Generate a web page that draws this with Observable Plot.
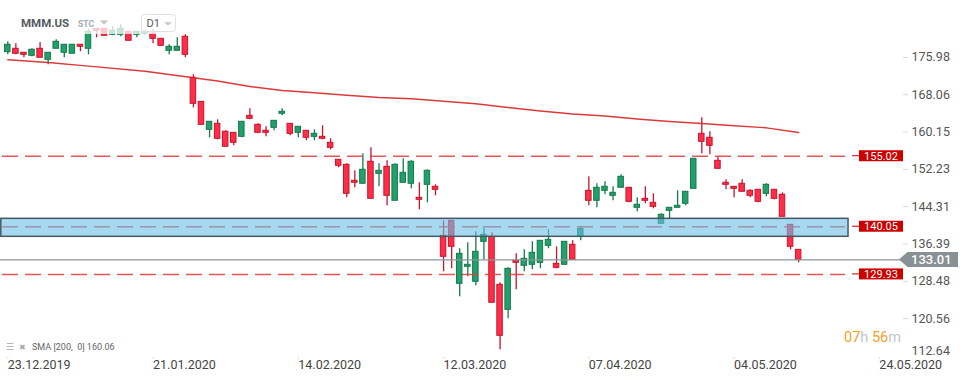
<!DOCTYPE html>
<html><head><meta charset="utf-8">
<script src="https://cdn.jsdelivr.net/npm/d3@7"></script>
<script src="https://cdn.jsdelivr.net/npm/@observablehq/plot@0.6"></script>
<style>
html,body{margin:0;padding:0;background:#fff;}
#chart{position:relative;width:970px;height:381px;overflow:hidden;}
</style></head><body><div id="chart"></div>
<script>
// ---- data (daily candles, MMM.US) ----
const openP = [177.11,177.83,176.98,176.34,177.83,175.49,177.83,176.98,176.77,178.68,
177.83,182.07,182.07,180.80,180.80,181.44,180.80,181.01,181.01,179.95,
177.40,177.40,180.38,171.67,166.57,160.63,161.90,160.21,159.99,159.14,
163.60,161.69,160.42,161.05,164.03,161.90,159.99,160.42,159.14,159.14,
157.87,154.26,153.20,149.80,149.17,153.84,151.29,152.77,145.56,149.38,
149.17,146.19,148.95,148.53,138.12,141.31,127.93,131.54,128.36,136.85,
137.91,127.72,122.41,132.82,131.76,131.97,132.39,136.00,132.18,131.97,
136.21,137.91,147.68,145.56,147.68,146.62,148.32,148.32,144.07,145.98,
145.13,140.67,143.43,144.07,144.92,148.10,159.78,158.93,154.05,149.38,
148.53,149.17,147.68,147.89,147.04,147.89,146.83,140.46,135.15];
const highP = [179.31,178.89,176.98,177.83,179.17,176.98,179.74,178.68,178.68,178.68,
181.86,182.07,182.07,182.50,182.92,181.44,181.44,181.65,181.86,179.95,
178.68,180.16,180.80,172.31,166.57,162.33,162.75,160.42,159.99,162.33,
165.09,161.90,161.27,162.54,165.09,161.90,161.27,160.42,160.63,161.48,
158.72,154.26,153.41,151.93,155.53,156.81,153.41,154.05,153.41,154.47,
154.05,149.38,152.14,148.95,141.31,141.31,135.37,136.64,138.97,140.04,
138.76,128.15,131.33,134.30,135.15,136.85,137.06,139.40,135.79,136.85,
137.06,140.04,150.65,149.17,149.59,148.53,151.08,148.32,146.19,148.53,
147.04,142.80,144.07,147.68,147.47,154.47,163.18,160.21,154.90,150.01,
148.53,150.01,147.89,147.89,149.17,147.89,147.25,140.46,135.15];
const lowP = [176.55,176.55,175.92,176.13,175.92,174.43,177.83,175.92,176.77,177.19,
176.55,180.16,180.59,180.59,180.38,179.53,180.16,180.80,178.89,178.46,
176.55,177.40,175.92,165.30,161.69,158.93,158.51,157.02,157.23,158.93,
162.75,159.78,159.14,160.42,163.60,159.36,158.93,158.29,158.29,158.51,
156.38,152.56,146.19,148.32,149.17,145.98,148.53,144.49,145.56,149.38,
148.10,143.65,145.13,146.62,130.48,131.12,125.17,129.42,127.51,133.03,
123.90,113.92,120.50,126.66,130.48,130.91,131.12,135.37,131.12,131.97,
133.03,137.06,144.49,144.07,146.83,145.56,148.32,145.13,143.22,144.92,
143.86,140.67,141.73,144.07,144.49,148.10,155.53,155.32,152.35,147.89,
146.19,147.47,146.19,145.13,146.41,145.77,142.16,135.15,132.39];
const closeP = [178.68,176.77,176.55,177.62,175.92,176.98,179.31,178.68,178.68,178.25,
181.44,181.65,180.59,181.65,182.07,179.53,181.44,181.44,179.95,178.46,
178.25,178.25,176.55,166.15,161.69,162.33,158.72,157.02,157.87,162.33,
162.97,159.99,159.99,162.54,164.45,159.78,161.27,158.93,159.78,158.72,
156.81,152.99,147.04,149.38,152.14,145.98,151.93,146.62,153.20,151.50,
153.84,145.77,151.93,147.89,133.67,135.79,134.30,131.97,134.73,138.34,
123.90,116.89,131.12,132.39,133.24,134.52,137.06,137.28,131.33,136.85,
133.03,139.61,145.56,148.32,148.53,147.25,150.65,145.34,144.71,145.56,
144.28,142.58,144.07,144.49,147.47,154.47,158.08,157.23,152.35,148.95,
148.10,147.47,146.62,145.34,148.95,145.98,142.16,135.79,133.01];

const smaIndex = [0,5,10,17,23,26,30,34,38,42,46,50,54,58,62,66,70,74,78,82,86,90,94,98];
const smaValue = [175.49,174.92,174.15,173.07,171.67,170.99,169.82,168.97,168.49,167.98,167.49,167.21,166.70,166.15,165.37,164.62,163.98,163.56,162.92,162.39,161.97,161.50,161.05,160.06];

const yTicks = [175.98,168.06,160.15,152.23,144.31,136.39,128.48,120.56];
const yTickBottom = [112.64];
const dateTickIndex = [0,18,36,54,72,90,108];
const dateTickLabels = ["23.12.2019","21.01.2020","14.02.2020","12.03.2020","07.04.2020","04.05.2020","24.05.2020"];
const levelLines = [155.02,140.05,129.93];
const zoneLow = 137.91, zoneHigh = 141.73;
const lastPrice = 133.01;
const smaLabel = "SMA [200,  0] 160.06";

// ---- build ----
const candles = openP.map((o,i)=>({i, o, h: highP[i], l: lowP[i], c: closeP[i], up: closeP[i] >= o}));
const sma = smaIndex.map((i,k)=>({i, v: smaValue[k]}));
const levels = levelLines.map(v=>({v}));
const zone = [{lo: zoneLow, hi: zoneHigh}];

const GREEN_F = "#22a06b", GREEN_S = "#15794c", RED_F = "#ff2e48", RED_S = "#c8142c";
const X0 = -0.905, X1 = 111.24, LEVEL_END = 103.8, ZONE_END = 104.18;
const yAxisStyle = {anchor: "right", tickFormat: d => d.toFixed(2), tickSize: 5, tickPadding: 4, dx: -3,
  fill: "#555", stroke: "#d9d9d9", fontSize: 12.5, label: null};

const chart = Plot.plot({
  width: 970, height: 381,
  marginLeft: 0, marginRight: 65, marginTop: 0, marginBottom: 24,
  style: {fontFamily: "Roboto, 'Noto Sans', sans-serif", background: "#fff", overflow: "visible"},
  x: {type: "linear", domain: [X0, X1], label: null},
  y: {type: "linear", domain: [112.29, 188.08], label: null},
  color: {type: "identity"},
  marks: [
    Plot.ruleX(candles, {x: "i", y1: "l", y2: "h", stroke: d => d.up ? GREEN_S : RED_S, strokeWidth: 1.3}),
    Plot.rect(candles, {x1: d => d.i - 0.34, x2: d => d.i + 0.34,
      y1: d => Math.min(d.o, d.c), y2: d => Math.max(d.o, d.c),
      fill: d => d.up ? GREEN_F : RED_F, stroke: d => d.up ? GREEN_S : RED_S, strokeWidth: 1}),
    Plot.line(sma, {x: "i", y: "v", stroke: "#d92424", strokeWidth: 1.4, strokeOpacity: 0.9}),
    Plot.ruleY(levels, {y: "v", x1: X0, x2: LEVEL_END, stroke: "#e03a3a", strokeWidth: 1.5, strokeOpacity: 0.85, strokeDasharray: "16,7", strokeDashoffset: -2}),
    Plot.ruleY([lastPrice], {stroke: "#8d9598", strokeWidth: 1.3}),
    Plot.rect(zone, {x1: X0 + 0.1, x2: ZONE_END, y1: "lo", y2: "hi", fill: "#6bbee6", fillOpacity: 0.6, stroke: "#455864", strokeWidth: 1.5}),
    Plot.axisY({...yAxisStyle, ticks: yTicks}),
    Plot.axisY({...yAxisStyle, ticks: yTickBottom, tickSize: 0, tickPadding: 9, dy: -5}),
    Plot.axisX({anchor: "bottom", ticks: dateTickIndex, tickFormat: d => dateTickLabels[dateTickIndex.indexOf(d)],
      textAnchor: "start", tickSize: 2, tickPadding: 1, fill: "#444", stroke: "#ddd", fontSize: 12.5, label: null})
  ]
});
document.getElementById("chart").appendChild(chart);

// ---- annotations positioned with Plot's scales ----
const svg = d3.select(chart);
const ys = chart.scale("y");
const ann = svg.append("g").attr("text-anchor", "start");
levelLines.forEach(v => {
  const y = ys.apply(v);
  ann.append("line").attr("x1", 852).attr("x2", 859).attr("y1", y).attr("y2", y).attr("stroke", "#cc0000").attr("stroke-width", 1);
  ann.append("rect").attr("x", 859).attr("y", y - 5.5).attr("width", 44).attr("height", 11).attr("fill", "#cc0000");
  ann.append("text").attr("x", 881).attr("y", y).attr("dy", "0.36em").attr("text-anchor", "middle")
    .attr("fill", "#fff").attr("font-size", 11).text(v.toFixed(2));
});
{
  const y = ys.apply(lastPrice);
  ann.append("path").attr("d", `M899,${y} L907.5,${y-7.5} L958,${y-7.5} L958,${y+7.5} L907.5,${y+7.5} Z`).attr("fill", "#899194");
  ann.append("text").attr("x", 911).attr("y", y).attr("dy", "0.36em").attr("fill", "#fff")
    .attr("font-size", 13).attr("font-weight", 500).text(lastPrice.toFixed(2));
}
// header overlay
ann.append("rect").attr("x", 0).attr("y", 0).attr("width", 185).attr("height", 34).attr("fill", "#fff").attr("fill-opacity", 0.75);
ann.append("text").attr("x", 21).attr("y", 27.3).attr("font-size", 11.5).attr("font-weight", 700).attr("fill", "#555b61").text("MMM.US");
ann.append("text").attr("x", 78).attr("y", 27.3).attr("font-size", 8.5).attr("font-weight", 700).attr("fill", "#a3abb2").text("STC");
ann.append("path").attr("d", "M100,20.5 L108,20.5 L104,24.5 Z").attr("fill", "#bcc2c6");
ann.append("rect").attr("x", 141.5).attr("y", 14.5).attr("width", 34).attr("height", 17).attr("rx", 3)
  .attr("fill", "none").attr("stroke", "#e0e0e0");
ann.append("text").attr("x", 146.5).attr("y", 27.3).attr("font-size", 11).attr("fill", "#555b61").text("D1");
ann.append("path").attr("d", "M164,22.3 L172,22.3 L168,25.6 Z").attr("fill", "#c4c8cc");
// SMA legend
ann.append("text").attr("x", 6).attr("y", 349.5).attr("font-size", 9).attr("fill", "#a8a8a8").text("☰");
ann.append("text").attr("x", 19).attr("y", 349.5).attr("font-size", 8).attr("fill", "#a8a8a8").text("✖");
ann.append("text").attr("x", 32).attr("y", 349.5).attr("font-size", 9).attr("fill", "#666").style("white-space", "pre").text(smaLabel);
// countdown
const cd = ann.append("text").attr("x", 844).attr("y", 341.5).attr("font-size", 14.5);
cd.append("tspan").attr("fill", "#f5a02a").text("07");
cd.append("tspan").attr("fill", "#c2c6ca").text("h ");
cd.append("tspan").attr("fill", "#f5a02a").text("56");
cd.append("tspan").attr("fill", "#c2c6ca").text("m");
</script></body></html>
